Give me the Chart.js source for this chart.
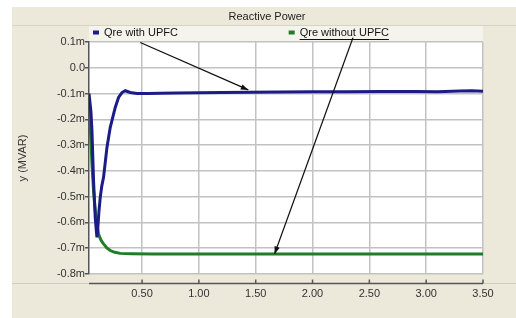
<!DOCTYPE html>
<html>
<head>
<meta charset="utf-8">
<script src="https://cdn.jsdelivr.net/npm/chart.js@4.4.1/dist/chart.umd.min.js"></script>
<style>
  html, body { margin: 0; padding: 0; background: #fff; }
  canvas { display: block; }
</style>
</head>
<body>
<canvas id="chart" width="516" height="318"></canvas>
<script>
// time axis (s)
var timeWith = [0.033, 0.038, 0.05, 0.059, 0.073, 0.088, 0.097, 0.103, 0.109, 0.12, 0.132, 0.145, 0.161, 0.191, 0.22, 0.264, 0.293, 0.323, 0.352, 0.396, 0.455, 0.55, 0.66, 0.8, 1.0, 1.2, 1.45, 1.7, 2.0, 2.3, 2.6, 2.9, 3.1, 3.3, 3.4, 3.5];
var qreWith  = [-0.10, -0.10, -0.17, -0.244, -0.438, -0.581, -0.63, -0.658, -0.632, -0.56, -0.503, -0.46, -0.425, -0.309, -0.231, -0.154, -0.115, -0.096, -0.089, -0.096, -0.100, -0.100, -0.099, -0.098, -0.097, -0.096, -0.095, -0.094, -0.093, -0.093, -0.092, -0.092, -0.093, -0.090, -0.089, -0.091];

var timeWithout = [0.033, 0.038, 0.05, 0.059, 0.073, 0.085, 0.097, 0.117, 0.14, 0.161, 0.19, 0.22, 0.26, 0.308, 0.4, 0.6, 1.0, 1.5, 2.0, 2.5, 3.0, 3.5];
var qreWithout  = [-0.15, -0.18, -0.283, -0.373, -0.477, -0.54, -0.593, -0.645, -0.67, -0.683, -0.699, -0.709, -0.716, -0.72, -0.721, -0.722, -0.722, -0.722, -0.722, -0.722, -0.722, -0.722];

var chartTitle = "Reactive Power";
var seriesNames = ["Qre with UPFC", "Qre without UPFC"];
var seriesColors = ["#1c1c86", "#1f7d28"];

// arrow annotations, in data units: [fromX, fromY, toX, toY]
var arrows = [
  [0.484, 0.098, 1.435, -0.086],
  [2.356, 0.117, 1.666, -0.722]
];

var fontFamily = "'Liberation Sans', Arial, sans-serif";

var toPoints = function(xs, ys) {
  var pts = [];
  for (var i = 0; i < xs.length; i++) {
    pts.push({x: xs[i], y: ys[i]});
  }
  return pts;
};

var framePlugin = {
  id: "frame",
  beforeDraw: function(chart) {
    var ctx = chart.ctx;
    var a = chart.chartArea;
    ctx.save();
    ctx.fillStyle = "#ffffff";
    ctx.fillRect(0, 0, chart.width, chart.height);
    ctx.fillStyle = "#ece9db";
    ctx.fillRect(12, 7, chart.width - 12, chart.height - 7);
    ctx.strokeStyle = "#d6d3c4";
    ctx.lineWidth = 1;
    ctx.beginPath();
    ctx.moveTo(12, 25.5);
    ctx.lineTo(chart.width, 25.5);
    ctx.stroke();
    // title
    ctx.fillStyle = "#222222";
    ctx.font = "11px " + fontFamily;
    ctx.textAlign = "center";
    ctx.textBaseline = "middle";
    ctx.fillText(chartTitle, 267, 16.5);
    // legend band
    ctx.fillStyle = "#f4f3ec";
    ctx.fillRect(a.left, 26, a.right - a.left, a.top - 26);
    // plot area
    ctx.fillStyle = "#ffffff";
    ctx.fillRect(a.left, a.top, a.right - a.left, a.bottom - a.top);
    ctx.restore();
  },
  afterDraw: function(chart) {
    var ctx = chart.ctx;
    var a = chart.chartArea;
    var xs = chart.scales.x;
    var ys = chart.scales.y;
    ctx.save();

    // separate x axis line under the plot
    var axisY = a.bottom + 9.5;
    ctx.strokeStyle = "#cfccbc";
    ctx.lineWidth = 1;
    ctx.beginPath();
    ctx.moveTo(12, axisY);
    ctx.lineTo(chart.width, axisY);
    ctx.stroke();
    ctx.strokeStyle = "#555555";
    ctx.lineWidth = 1.5;
    ctx.beginPath();
    ctx.moveTo(a.left, axisY);
    ctx.lineTo(a.right, axisY);
    ctx.stroke();
    xs.ticks.forEach(function(t) {
      var px = xs.getPixelForValue(t.value);
      ctx.beginPath();
      ctx.moveTo(px, axisY);
      ctx.lineTo(px, axisY - 4);
      ctx.stroke();
    });

    // legend
    ctx.font = "11px " + fontFamily;
    ctx.textBaseline = "middle";
    ctx.textAlign = "left";
    var legendY = 33;
    var legendX = [a.left + 4, xs.getPixelForValue(1.79)];
    for (var i = 0; i < seriesNames.length; i++) {
      ctx.fillStyle = seriesColors[i];
      ctx.fillRect(legendX[i], legendY - 2.5, 6, 4);
      ctx.fillStyle = "#111111";
      ctx.fillText(seriesNames[i], legendX[i] + 11, legendY);
      if (i === 1) {
        var w = ctx.measureText(seriesNames[i]).width;
        ctx.strokeStyle = "#111111";
        ctx.lineWidth = 1;
        ctx.beginPath();
        ctx.moveTo(legendX[i] + 11, legendY + 6.5);
        ctx.lineTo(legendX[i] + 11 + w, legendY + 6.5);
        ctx.stroke();
      }
    }

    // arrows
    ctx.strokeStyle = "#111111";
    ctx.fillStyle = "#111111";
    ctx.lineWidth = 1.3;
    arrows.forEach(function(ar) {
      var x1 = xs.getPixelForValue(ar[0]), y1 = ys.getPixelForValue(ar[1]);
      var x2 = xs.getPixelForValue(ar[2]), y2 = ys.getPixelForValue(ar[3]);
      var ang = Math.atan2(y2 - y1, x2 - x1);
      ctx.beginPath();
      ctx.moveTo(x1, y1);
      ctx.lineTo(x2, y2);
      ctx.stroke();
      ctx.beginPath();
      ctx.moveTo(x2, y2);
      ctx.lineTo(x2 - 8 * Math.cos(ang - 0.35), y2 - 8 * Math.sin(ang - 0.35));
      ctx.lineTo(x2 - 8 * Math.cos(ang + 0.35), y2 - 8 * Math.sin(ang + 0.35));
      ctx.closePath();
      ctx.fill();
    });
    ctx.restore();
  }
};

new Chart(document.getElementById("chart"), {
  type: "line",
  data: {
    datasets: [{
      label: seriesNames[0],
      data: toPoints(timeWith, qreWith),
      borderColor: seriesColors[0],
      borderWidth: 3,
      pointRadius: 0,
      fill: false
    },
    {
      label: seriesNames[1],
      data: toPoints(timeWithout, qreWithout),
      borderColor: seriesColors[1],
      borderWidth: 3,
      pointRadius: 0,
      fill: false
    }]
  },
  options: {
    responsive: false,
    animation: false,
    layout: { padding: { left: 12, top: 42, right: 33, bottom: 0 } },
    plugins: {
      legend: { display: false },
      tooltip: { enabled: false },
      title: { display: false }
    },
    scales: {
      x: {
        type: "linear",
        min: 0.033,
        max: 3.5,
        afterFit: function(scale) { scale.height = 44; },
        border: { display: false },
        grid: { color: "#c2c2c2", lineWidth: 1.5, drawTicks: false },
        ticks: {
          stepSize: 0.5,
          includeBounds: false,
          padding: 13,
          color: "#333333",
          font: { family: fontFamily, size: 11 },
          callback: function(v) { return v.toFixed(2); }
        }
      },
      y: {
        min: -0.8,
        max: 0.1,
        afterFit: function(scale) { scale.width = 77; },
        border: { display: true, color: "#555555", width: 1.5 },
        grid: { color: "#c2c2c2", lineWidth: 1.5, tickLength: 4, tickColor: "#555555" },
        title: {
          display: true,
          text: "y (MVAR)",
          color: "#333333",
          padding: { top: 4, bottom: 0 },
          font: { family: fontFamily, size: 11 }
        },
        ticks: {
          stepSize: 0.1,
          padding: 0,
          color: "#333333",
          font: { family: fontFamily, size: 11 },
          callback: function(v) {
            var r = Math.round(v * 10) / 10;
            return r === 0 ? "0.0" : r.toFixed(1) + "m";
          }
        }
      }
    }
  },
  plugins: [framePlugin]
});
</script>
</body>
</html>
